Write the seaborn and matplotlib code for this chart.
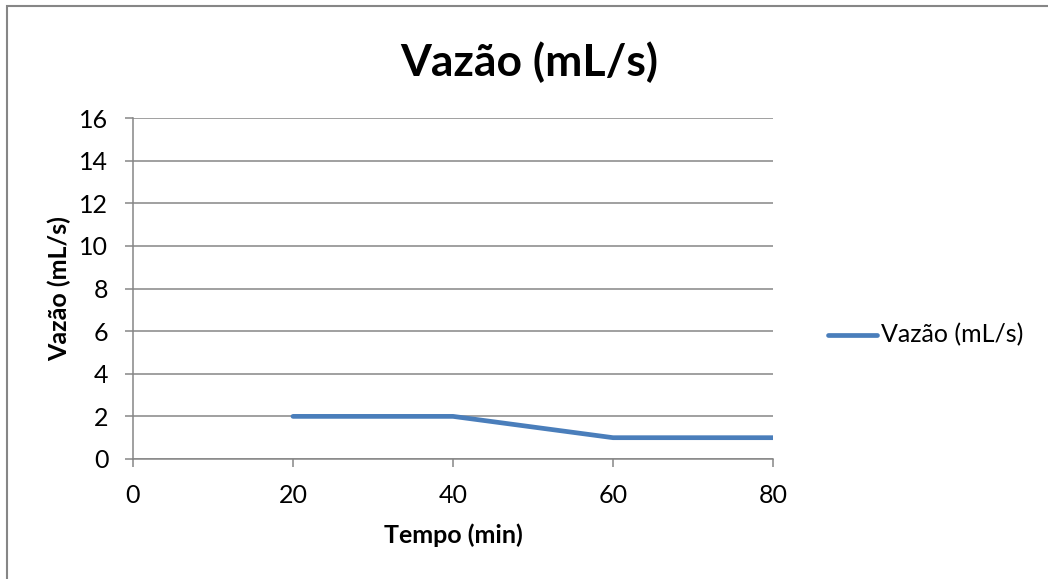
import matplotlib
matplotlib.use("Agg")
import matplotlib.pyplot as plt
from matplotlib.patches import Rectangle
import seaborn as sns
import pandas as pd

# Flow-rate measurements
tempo_min = [20, 40, 60, 80]
vazao_mls = [2, 2, 1, 1]
serie = "Vazão (mL/s)"
x_ticks = [0, 20, 40, 60, 80]
y_ticks = [0, 2, 4, 6, 8, 10, 12, 14, 16]

df = pd.DataFrame({"Tempo (min)": tempo_min, "Vazão (mL/s)": vazao_mls, "serie": serie})

sns.set_theme(style="white")
plt.rcParams["font.family"] = ["Lato", "DejaVu Sans"]

W, H = 1048, 579
fig = plt.figure(figsize=(W / 100, H / 100), dpi=100)
ax = fig.add_axes([133 / W, 1 - 459 / H, (773 - 133) / W, (459 - 118) / H])

grid_c = "#868686"
line_c = "#4a7ebb"

sns.lineplot(data=df, x="Tempo (min)", y="Vazão (mL/s)", hue="serie",
             palette=[line_c], linewidth=3.4, ax=ax, legend=False,
             solid_capstyle="round", solid_joinstyle="round", zorder=3)

ax.set_xlim(0, 80)
ax.set_ylim(0, 16)
ax.set_xticks(x_ticks)
ax.set_yticks(y_ticks)
ax.set_xticklabels([str(v) for v in x_ticks])
ax.set_yticklabels([str(v) for v in y_ticks])
ax.yaxis.grid(True, color=grid_c, linewidth=1.1)
ax.xaxis.grid(False)
for s in ["top", "right"]:
    ax.spines[s].set_visible(False)
for s in ["left", "bottom"]:
    ax.spines[s].set_color(grid_c)
    ax.spines[s].set_linewidth(1.1)
ax.tick_params(axis="both", which="major", direction="out", length=5.8, width=1.1,
               color=grid_c, labelsize=18, labelcolor="black",
               bottom=True, left=True)
ax.tick_params(axis="y", pad=12)
ax.tick_params(axis="x", pad=12)

ax.set_xlabel("Tempo (min)", fontsize=18, fontweight="bold", color="black", labelpad=12)
ax.set_ylabel("Vazão (mL/s)", fontsize=18, fontweight="bold", color="black", labelpad=6)

fig.text(529 / W, 1 - 62 / H, "Vazão (mL/s)", fontsize=32, fontweight="bold",
         ha="center", va="center", color="black")

# Legend entry
leg_ax = fig.add_axes([0, 0, 1, 1], facecolor="none")
leg_ax.set_xlim(0, W)
leg_ax.set_ylim(H, 0)
leg_ax.axis("off")
leg_ax.plot([828, 877], [335, 335], color=line_c, linewidth=3.4, solid_capstyle="round")
leg_ax.text(881, 335, serie, fontsize=18, ha="left", va="center", color="black")

# Chart frame
fig.add_artist(Rectangle((7 / W, -0.05), 1.1, 1 - 6 / H + 0.05, transform=fig.transFigure,
                         fill=False, edgecolor=grid_c, linewidth=1.5))

fig.savefig("out.png", dpi=100, facecolor="white")
